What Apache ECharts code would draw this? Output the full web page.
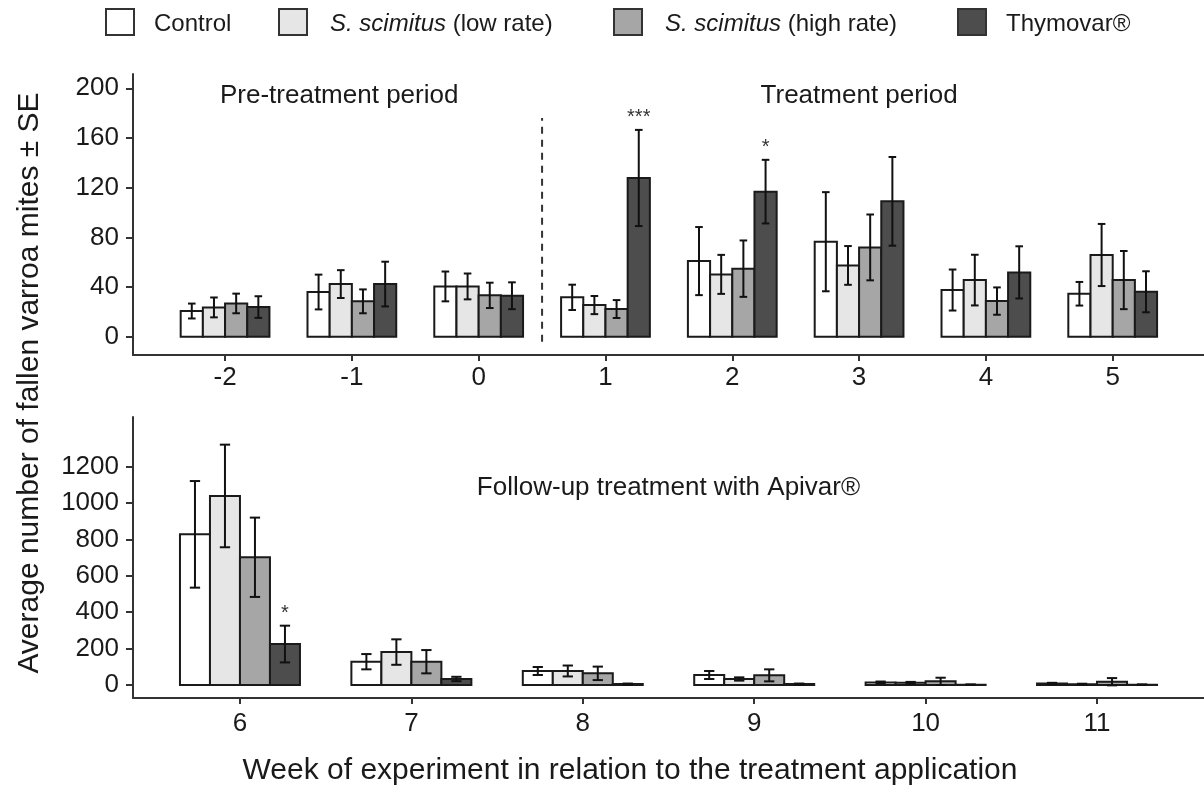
<!DOCTYPE html>
<html>
<head>
<meta charset="utf-8">
<script src="https://cdn.jsdelivr.net/npm/echarts@6/dist/echarts.min.js"></script>
<style>
  html, body { margin: 0; padding: 0; background: #fff; }
  #chart { width: 1204px; height: 789px; }
</style>
</head>
<body>
<div id="chart"></div>
<script>
// treatments, in legend order
var treatments = ['Control', 'S. scimitus (low rate)', 'S. scimitus (high rate)', 'Thymovar®'];
var fills = ['#ffffff', '#e6e6e6', '#a6a6a6', '#4d4d4d'];

// top panel: weeks -2 .. 5 (pre-treatment + treatment period)
var topWeeks = [-2, -1, 0, 1, 2, 3, 4, 5];
var topControl = [20.7, 36, 40.5, 31.7, 60.9, 76.5, 37.6, 34.6];
var topControlSE = [6, 14, 12, 10.2, 27.4, 39.9, 16.5, 9.5];
var topLow = [23.6, 42.4, 40.5, 25.5, 50.2, 57.4, 45.6, 65.8];
var topLowSE = [8, 11.2, 10.4, 7.3, 15.7, 15.6, 20.4, 25];
var topHigh = [26.8, 28.5, 33.3, 22.3, 54.8, 71.9, 28.7, 45.6];
var topHighSE = [7.9, 9.6, 10.2, 7.2, 22.7, 26.5, 11, 23.4];
var topThy = [23.9, 42.4, 33, 127.8, 116.8, 109, 51.8, 36.2];
var topThySE = [8.7, 18, 10.8, 38.7, 25.6, 35.7, 21, 16.5];
var topThySig = ['', '', '', '***', '*', '', '', ''];
var topTicks = [0, 40, 80, 120, 160, 200];

// bottom panel: weeks 6 .. 11 (follow-up with Apivar)
var botWeeks = [6, 7, 8, 9, 10, 11];
var botControl = [828, 128, 77, 55, 14, 8];
var botControlSE = [293, 42, 22, 22, 5, 4];
var botLow = [1039, 181, 77, 33, 12, 4];
var botLowSE = [282, 70, 30, 9, 5, 3];
var botHigh = [702, 128, 64, 53, 20, 18];
var botHighSE = [218, 64, 37, 33, 20, 20];
var botThy = [225, 33, 5, 5, 2, 2];
var botThySE = [101, 12, 3, 3, 1, 1];
var botThySig = ['*', '', '', '', '', ''];
var botTicks = [0, 200, 400, 600, 800, 1000, 1200];

// panel headings
var topNotes = ['Pre-treatment period', 'Treatment period'];
var topNotePos = [[-1.1, 194], [3, 194]];
var botNotes = ['Follow-up treatment with Apivar®'];
var botNotePos = [[8.5, 1083]];

var FONT = '"Liberation Sans", Arial, sans-serif';
var INK = '#1a1a1a';
var barW = 0.175;
var capW = 0.06;
var offsets = [-0.2625, -0.0875, 0.0875, 0.2625];

function pack(weeks, mean, se) {
  return weeks.map(function (w, i) { return [w, mean[i], se[i]]; });
}

function makeRender(k, sig) {
  return function (params, api) {
    var x = api.value(0) + offsets[k];
    var m = api.value(1), se = api.value(2);
    var a = api.coord([x - barW / 2, 0]);
    var b = api.coord([x + barW / 2, m]);
    var lo = api.coord([x, m - se]);
    var hi = api.coord([x, m + se]);
    var c1 = api.coord([x - capW / 2, 0])[0];
    var c2 = api.coord([x + capW / 2, 0])[0];
    var eb = { stroke: '#111', lineWidth: 2 };
    var children = [
      { type: 'rect', shape: { x: a[0], y: b[1], width: b[0] - a[0], height: a[1] - b[1] },
        style: { fill: fills[k], stroke: '#1a1a1a', lineWidth: 2 } },
      { type: 'line', shape: { x1: lo[0], y1: lo[1], x2: hi[0], y2: hi[1] }, style: eb },
      { type: 'line', shape: { x1: c1, y1: lo[1], x2: c2, y2: lo[1] }, style: eb },
      { type: 'line', shape: { x1: c1, y1: hi[1], x2: c2, y2: hi[1] }, style: eb }
    ];
    if (sig && sig[params.dataIndex]) {
      children.push({ type: 'text', x: hi[0], y: hi[1] - 2,
        style: { text: sig[params.dataIndex], align: 'center', verticalAlign: 'bottom',
                 fontSize: 20, fontFamily: FONT, fill: '#333' } });
    }
    return { type: 'group', children: children };
  };
}

function barSeries(k, axis, data, sig) {
  return {
    type: 'custom', name: treatments[k], xAxisIndex: axis, yAxisIndex: axis,
    renderItem: makeRender(k, sig), data: data, encode: { x: 0, y: 1 },
    itemStyle: { color: fills[k], borderColor: '#1a1a1a', borderWidth: 2 }
  };
}

function noteSeries(axis, pos, texts) {
  return {
    type: 'custom', xAxisIndex: axis, yAxisIndex: axis, silent: true, data: pos,
    renderItem: function (params, api) {
      var p = api.coord([api.value(0), api.value(1)]);
      return { type: 'text', x: p[0], y: p[1],
        style: { text: texts[params.dataIndex], align: 'center', verticalAlign: 'middle',
                 fontSize: 26, fontFamily: FONT, fill: INK } };
    }
  };
}

var axisLine = { lineStyle: { color: '#333', width: 2 } };
var labelStyle = { color: INK, fontSize: 26, fontFamily: FONT, formatter: function (v) { return String(v); } };

function xAx(grid, min, max, ticks, margin) {
  return {
    type: 'value', gridIndex: grid, min: min, max: max,
    axisLine: Object.assign({ onZero: false }, axisLine),
    axisTick: { length: 6, lineStyle: { color: '#333', width: 2 }, customValues: ticks },
    axisLabel: Object.assign({ margin: margin, customValues: ticks }, labelStyle),
    splitLine: { show: false }
  };
}
function yAx(grid, min, max, ticks) {
  return {
    type: 'value', gridIndex: grid, min: min, max: max,
    axisLine: Object.assign({ show: true, onZero: false }, axisLine),
    axisTick: { show: true, length: 7, lineStyle: { color: '#333', width: 2 }, customValues: ticks },
    axisLabel: Object.assign({ margin: 14, customValues: ticks }, labelStyle),
    splitLine: { show: false }
  };
}

// one legend block per treatment so each sits where the reference puts it
var legendLeft = [105, 278, 613, 957];
var legends = treatments.map(function (t, k) {
  return {
    left: legendLeft[k], top: 8, padding: 0, itemWidth: 28, itemHeight: 26, icon: 'rect',
    data: [{ name: t, itemStyle: { color: fills[k], borderColor: '#333', borderWidth: 2 } }],
    formatter: function (name) {
      return name.indexOf('S. scimitus') === 0 ? '{i|S. scimitus}' + name.slice(11) : name;
    },
    textStyle: {
      color: INK, fontSize: 24, fontFamily: FONT, padding: [5, 0, 0, k === 0 || k === 3 ? 15 : 18],
      rich: { i: { fontStyle: 'italic', color: INK, fontSize: 24, fontFamily: FONT } }
    }
  };
});

var chart = echarts.init(document.getElementById('chart'));
var option = {
  backgroundColor: '#fff',
  animation: false,
  legend: legends,
  grid: [
    { left: 133, right: 0, top: 74, height: 281 },
    { left: 133, right: 0, top: 417, height: 281 }
  ],
  xAxis: [
    xAx(0, -2.726, 5.72, topWeeks, 10),
    xAx(1, 5.376, 11.624, botWeeks, 13)
  ],
  yAxis: [
    yAx(0, -14.7, 211.5, topTicks),
    yAx(1, -71.5, 1473, botTicks)
  ],
  graphic: [
    { type: 'text', x: 30, y: 383, rotation: Math.PI / 2,
      style: { text: 'Average number of fallen varroa mites ± SE', align: 'center', verticalAlign: 'middle',
               fontSize: 30, fontFamily: FONT, fill: INK } },
    { type: 'text', x: 630, y: 771,
      style: { text: 'Week of experiment in relation to the treatment application', align: 'center',
               verticalAlign: 'middle', fontSize: 30, fontFamily: FONT, fill: INK } }
  ],
  series: [
    barSeries(0, 0, pack(topWeeks, topControl, topControlSE)),
    barSeries(1, 0, pack(topWeeks, topLow, topLowSE)),
    barSeries(2, 0, pack(topWeeks, topHigh, topHighSE)),
    barSeries(3, 0, pack(topWeeks, topThy, topThySE), topThySig),
    barSeries(0, 1, pack(botWeeks, botControl, botControlSE)),
    barSeries(1, 1, pack(botWeeks, botLow, botLowSE)),
    barSeries(2, 1, pack(botWeeks, botHigh, botHighSE)),
    barSeries(3, 1, pack(botWeeks, botThy, botThySE), botThySig),
    {
      type: 'line', xAxisIndex: 0, yAxisIndex: 0, symbol: 'none', silent: true,
      data: [[0.5, -4], [0.5, 176]],
      lineStyle: { color: '#333', width: 2, type: [7, 6] }
    },
    noteSeries(0, topNotePos, topNotes),
    noteSeries(1, botNotePos, botNotes)
  ]
};
chart.setOption(option);
window.addEventListener('resize', function () { chart.resize(); });
</script>
</body>
</html>
